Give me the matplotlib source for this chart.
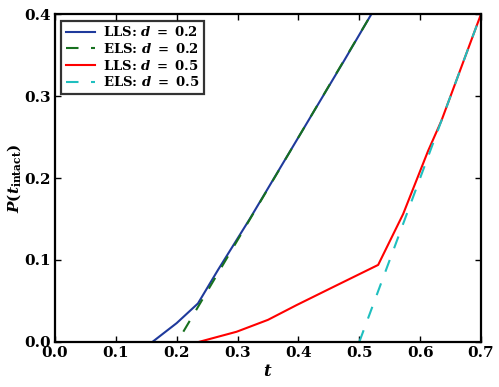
import matplotlib
matplotlib.use("Agg")
import matplotlib.pyplot as plt

# fonts: bold serif everywhere, incl. math
plt.rcParams['font.family'] = 'DejaVu Serif'
plt.rcParams['font.weight'] = 'bold'
plt.rcParams['mathtext.fontset'] = 'custom'
plt.rcParams['mathtext.rm'] = 'DejaVu Serif:bold'
plt.rcParams['mathtext.it'] = 'DejaVu Serif:italic:bold'
plt.rcParams['mathtext.bf'] = 'DejaVu Serif:bold'

# data
t_lls_02 = [0.16, 0.20, 0.235, 0.268, 0.32, 0.475, 0.52]
p_lls_02 = [0.0, 0.023, 0.047, 0.088, 0.15, 0.343, 0.40]

t_els_02 = [0.211, 0.52]
p_els_02 = [0.0126, 0.40]

t_lls_05 = [0.236, 0.2985, 0.35, 0.397, 0.457, 0.531, 0.572, 0.613, 0.635, 0.70]
p_lls_05 = [0.0, 0.0125, 0.027, 0.045, 0.067, 0.094, 0.156, 0.233, 0.27, 0.40]

t_els_05 = [0.50, 0.70]
p_els_05 = [0.0, 0.40]

xticks = [0.0, 0.1, 0.2, 0.3, 0.4, 0.5, 0.6, 0.7]
yticks = [0.0, 0.1, 0.2, 0.3, 0.4]

fig = plt.figure(figsize=(4.99, 3.87), dpi=100)
ax = fig.add_axes([0.110, 0.1163, 0.854, 0.8475])

lw = 1.5
ax.plot(t_lls_02, p_lls_02, color='#1f3a9c', lw=lw, label=r'LLS: $d\;=\;0.2$')
ax.plot(t_els_02, p_els_02, color='#17701f', lw=lw, dashes=[6, 6], label=r'ELS: $d\;=\;0.2$')
ax.plot(t_lls_05, p_lls_05, color='#ff0000', lw=lw, label=r'LLS: $d\;=\;0.5$')
ax.plot(t_els_05, p_els_05, color='#1fbfbf', lw=lw, dashes=[6, 6], label=r'ELS: $d\;=\;0.5$')

ax.set_xlim(0, 0.7)
ax.set_ylim(0, 0.4)
ax.set_xticks(xticks)
ax.set_yticks(yticks)
ax.set_xticklabels([f'{v:.1f}' for v in xticks])
ax.set_yticklabels([f'{v:.1f}' for v in yticks])
ax.tick_params(direction='in', top=True, right=True, length=4, width=1, labelsize=11, pad=3)

for s in ax.spines.values():
    s.set_linewidth(1.6)

ax.set_xlabel(r'$t$', fontsize=12, labelpad=2)
ax.set_ylabel(r'$P(t_{\mathrm{intact}})$', fontsize=11, labelpad=1)

leg = ax.legend(loc='upper left', fontsize=9.5, frameon=True, fancybox=False,
                handlelength=2.2, borderpad=0.35, labelspacing=0.2, handletextpad=0.6,
                borderaxespad=0.5)
leg.get_frame().set_edgecolor('black')
leg.get_frame().set_linewidth(1.6)

fig.savefig('out.png', dpi=100)
